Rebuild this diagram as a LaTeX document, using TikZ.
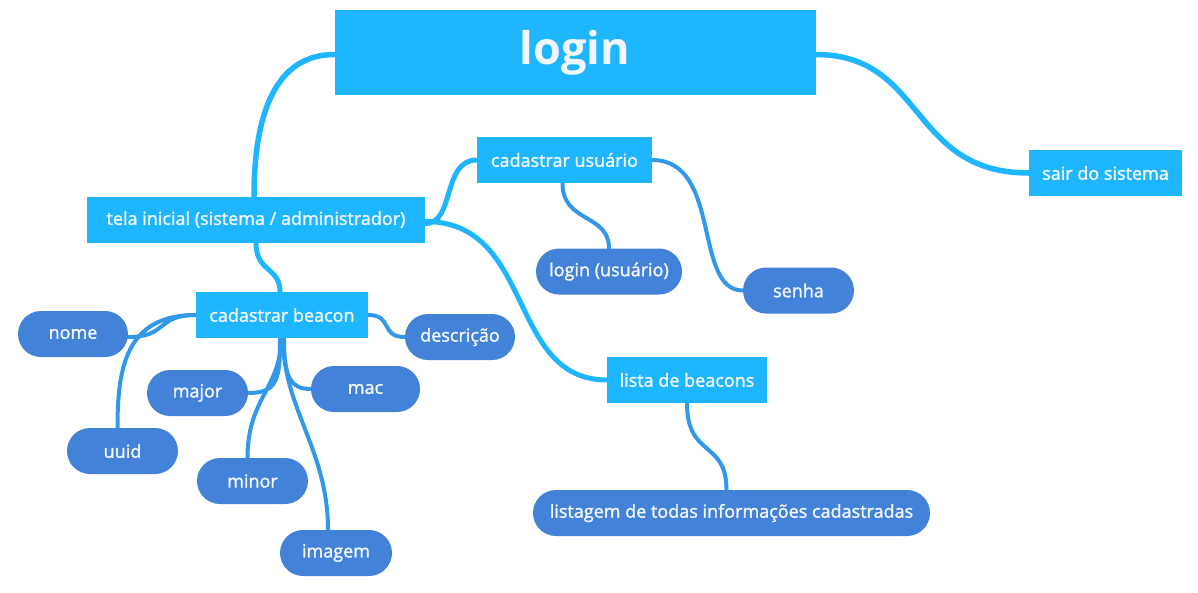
\documentclass[tikz,border=0pt]{standalone}
\usepackage{fontspec}
\setmainfont{Open Sans}
\newfontfamily\semib{Open Sans}[FakeBold=1.6]
\usetikzlibrary{backgrounds}
\definecolor{lblue}{HTML}{1EB6FF}
\definecolor{dblue}{HTML}{4282D8}
\definecolor{ltext}{HTML}{F2F6FA}
\colorlet{mblue}{lblue!45!dblue}
\tikzset{
  topic/.style={fill=lblue, text=ltext, inner sep=0pt, minimum height=46pt,
    font=\semib\fontsize{18}{20}\selectfont},
  leaf/.style={fill=dblue, text=ltext, inner sep=0pt, minimum height=46pt,
    rounded corners=23pt, font=\semib\fontsize{18}{20}\selectfont},
  link/.style={draw=lblue, line width=5pt, line cap=round},
  leaflink/.style={draw=mblue, line width=4pt, line cap=round},
}
\begin{document}
\begin{tikzpicture}[x=1pt,y=-1pt]
\useasboundingbox (0,0) rectangle (1198,592);
\path
  (575,52.5) node[topic, minimum width=481pt, minimum height=85pt, font=\fontsize{45}{50}\bfseries] (login) {login}
  (1105.5,173) node[topic, minimum width=153pt] (sair) {sair do sistema}
  (256,219.5) node[topic, minimum width=338pt] (tela) {tela inicial (sistema / administrador)}
  (564.5,160) node[topic, minimum width=175pt] (cu) {cadastrar usuário}
  (609,271.5) node[leaf, minimum width=146pt] (lu) {login (usuário)}
  (798.5,290.5) node[leaf, minimum width=111pt] (senha) {senha}
  (687,380) node[topic, minimum width=160pt] (lb) {lista de beacons}
  (731.5,513) node[leaf, minimum width=397pt] (listagem) {listagem de todas informações cadastradas}
  (282,315) node[topic, minimum width=172pt] (cb) {cadastrar beacon}
  (73,334) node[leaf, minimum width=110pt] (nome) {nome}
  (460,337) node[leaf, minimum width=110pt] (desc) {descrição}
  (197.5,393) node[leaf, minimum width=101pt] (major) {major}
  (365.5,389) node[leaf, minimum width=109pt] (mac) {mac}
  (122.5,451) node[leaf, minimum width=111pt] (uuid) {uuid}
  (252.5,481) node[leaf, minimum width=111pt] (minor) {minor}
  (336,553) node[leaf, minimum width=112pt] (imagem) {imagem};
\begin{scope}[on background layer]
\draw[link, line width=5.5pt] ([yshift=-2]login.west) .. controls +(-60,0) and +(0,-80) .. ([xshift=-2]tela.north);
\draw[link, line width=5.5pt] ([yshift=-2]login.east) .. controls +(110,0) and +(-120,0) .. (sair.west);
\draw[link] ([yshift=-4]tela.east) .. controls +(30,0) and +(-35,0) .. (cu.west);
\draw[link] ([yshift=-2]tela.east) .. controls +(110,0) and +(-100,0) .. (lb.west);
\draw[link] (tela.south) .. controls +(0,30) and +(0,-25) .. ([xshift=-2]cb.north);
\draw[leaflink] ([xshift=-2]cu.south) .. controls +(0,40) and +(0,-35) .. (lu.north);
\draw[leaflink] (cu.east) .. controls +(70,0) and +(-50,0) .. (senha.west);
\draw[leaflink] (lb.south) .. controls +(0,55) and +(0,-50) .. ([xshift=-5]listagem.north);
\draw[leaflink] (cb.west) .. controls +(-40,0) and +(40,0) .. ([yshift=-3]nome.east);
\draw[leaflink] (cb.west) .. controls +(-70,0) and +(0,-60) .. ([xshift=-5]uuid.north);
\draw[leaflink] (cb.east) .. controls +(25,0) and +(-25,0) .. (desc.west);
\draw[leaflink] ([xshift=-2]cb.south) .. controls +(0,40) and +(30,0) .. (major.east);
\draw[leaflink] ([xshift=-1]cb.south) .. controls +(0,50) and +(0,-60) .. ([xshift=-5]minor.north);
\draw[leaflink] ([xshift=1]cb.south) .. controls +(0,70) and +(0,-80) .. ([xshift=-8]imagem.north);
\draw[leaflink] ([xshift=2]cb.south) .. controls +(0,40) and +(-20,0) .. (mac.west);
\end{scope}
\end{tikzpicture}
\end{document}
